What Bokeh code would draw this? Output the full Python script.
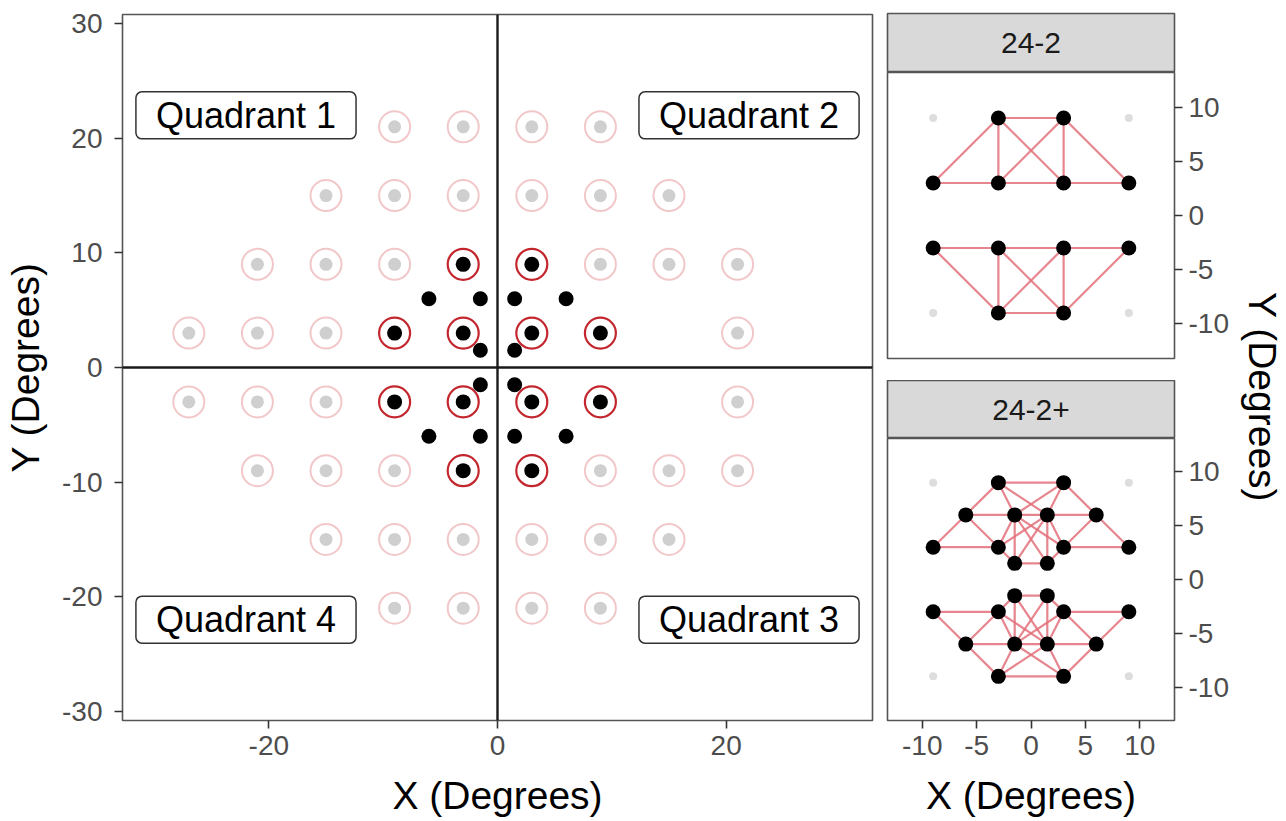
import math
from bokeh.plotting import figure
from bokeh.layouts import row, column
from bokeh.models import Span, Range1d, FixedTicker, ColumnDataSource
from bokeh.embed import file_html
from bokeh.resources import INLINE
from bokeh.core.properties import value

FONT = "Liberation Sans"

# ---------------- data ----------------
# 24-2 test grid (rows of y, with x positions per row)
grid_rows_y = [21, 15, 9, 3, -3, -9, -15, -21]
grid_rows_x = [
    [-9, -3, 3, 9],
    [-15, -9, -3, 3, 9, 15],
    [-21, -15, -9, -3, 3, 9, 15, 21],
    [-27, -21, -15, -9, -3, 3, 9, 21],
    [-27, -21, -15, -9, -3, 3, 9, 21],
    [-21, -15, -9, -3, 3, 9, 15, 21],
    [-15, -9, -3, 3, 9, 15],
    [-9, -3, 3, 9],
]

# central 24-2 points (within 10 degrees)
central_x = [-3, 3, -9, -3, 3, 9, -9, -3, 3, 9, -3, 3]
central_y = [9, 9, 3, 3, 3, 3, -3, -3, -3, -3, -9, -9]

# additional 24-2+ (24-2C) points
extra_x = [-6, -1.5, 1.5, 6, -1.5, 1.5, -1.5, 1.5, -6, -1.5, 1.5, 6]
extra_y = [6, 6, 6, 6, 1.5, 1.5, -1.5, -1.5, -6, -6, -6, -6]

# faint corner points in the facet panels
corner_x = [-9, 9, -9, 9]
corner_y = [9, 9, -9, -9]

# named points for the network edges
pts = {
    "A": (-3, 9), "B": (3, 9), "G": (-9, 3), "H": (-3, 3), "I": (3, 3), "J": (9, 3),
    "a": (-3, -9), "b": (3, -9), "g": (-9, -3), "h": (-3, -3), "i": (3, -3), "j": (9, -3),
    "C": (-6, 6), "D": (-1.5, 6), "E": (1.5, 6), "F": (6, 6), "K": (-1.5, 1.5), "L": (1.5, 1.5),
    "c": (-6, -6), "d": (-1.5, -6), "e": (1.5, -6), "f": (6, -6), "k": (-1.5, -1.5), "l": (1.5, -1.5),
}

edges_242 = [
    ("A", "B"), ("A", "G"), ("A", "H"), ("A", "I"), ("B", "H"), ("B", "I"), ("B", "J"),
    ("G", "H"), ("H", "I"), ("I", "J"),
    ("a", "b"), ("a", "g"), ("a", "h"), ("a", "i"), ("b", "h"), ("b", "i"), ("b", "j"),
    ("g", "h"), ("h", "i"), ("i", "j"),
]

edges_242p = [
    ("A", "B"), ("A", "C"), ("C", "G"), ("G", "H"), ("C", "D"), ("D", "E"), ("E", "F"),
    ("C", "H"), ("A", "D"), ("A", "E"), ("B", "D"), ("B", "E"), ("B", "F"), ("F", "J"),
    ("J", "I"), ("F", "I"), ("H", "D"), ("I", "E"), ("H", "E"), ("I", "D"), ("H", "K"),
    ("I", "L"), ("D", "K"), ("E", "L"), ("K", "L"), ("D", "L"), ("E", "K"),
    ("a", "b"), ("a", "c"), ("c", "g"), ("g", "h"), ("c", "d"), ("d", "e"), ("e", "f"),
    ("c", "h"), ("a", "d"), ("a", "e"), ("b", "d"), ("b", "e"), ("b", "f"), ("f", "j"),
    ("j", "i"), ("f", "i"), ("h", "d"), ("i", "e"), ("h", "e"), ("i", "d"), ("h", "k"),
    ("i", "l"), ("d", "k"), ("e", "l"), ("k", "l"), ("d", "l"), ("e", "k"),
]

quad_text = ["Quadrant 1", "Quadrant 2", "Quadrant 4", "Quadrant 3"]
quad_x = [-22, 22, -22, 22]
quad_y = [22, 22, -22, -22]

main_xticks = [-20, 0, 20]
main_yticks = [-30, -20, -10, 0, 10, 20, 30]
facet_xticks = [-10, -5, 0, 5, 10]
facet_yticks = [-10, -5, 0, 5, 10]
facet_titles = ["24-2", "24-2+"]

# ---------------- derived sources ----------------
grid_x, grid_y = [], []
for yv, xs in zip(grid_rows_y, grid_rows_x):
    for xv in xs:
        grid_x.append(xv)
        grid_y.append(yv)
central_set = set(zip(central_x, central_y))
faded = [(x, y) for x, y in zip(grid_x, grid_y) if (x, y) not in central_set]
faded_x = [p[0] for p in faded]
faded_y = [p[1] for p in faded]


def edge_source(edges):
    return ColumnDataSource(dict(
        x0=[pts[a][0] for a, b in edges], y0=[pts[a][1] for a, b in edges],
        x1=[pts[b][0] for a, b in edges], y1=[pts[b][1] for a, b in edges]))


TICK_COL = "#333333"
LABEL_COL = "#4D4D4D"
BORDER_COL = "#555555"
RING_RED = "#C4262E"
EDGE_COL = "#E3707A"


def style_axis(ax, ticks, fs="28px"):
    ax.ticker = FixedTicker(ticks=ticks)
    ax.major_label_overrides = {t: (("-" + str(-t)) if t < 0 else str(t)) for t in ticks}
    ax.axis_line_color = None
    ax.major_tick_in = 0
    ax.major_tick_out = 8
    ax.major_tick_line_color = TICK_COL
    ax.major_tick_line_width = 1.6
    ax.minor_tick_line_color = None
    ax.major_label_text_font = FONT
    ax.major_label_text_font_size = fs
    ax.major_label_text_color = LABEL_COL
    ax.axis_label_text_font = FONT
    ax.axis_label_text_font_size = "39px"
    ax.axis_label_text_font_style = "normal"
    ax.axis_label_text_color = "black"


TOTAL_H = 819

# ---------------- main panel ----------------
p = figure(width=879, height=TOTAL_H, x_range=Range1d(-32.8, 32.8), y_range=Range1d(-30.8, 30.8),
           output_backend="svg", toolbar_location=None,
           min_border_left=122, min_border_right=7, min_border_top=14, min_border_bottom=TOTAL_H - 14 - 708)
p.grid.visible = False
p.outline_line_color = BORDER_COL
p.outline_line_width = 1.6
p.background_fill_color = "white"
style_axis(p.xaxis[0], main_xticks)
style_axis(p.yaxis[0], main_yticks)
p.xaxis.axis_label = "X (Degrees)"
p.yaxis.axis_label = "Y (Degrees)"
p.xaxis.major_label_standoff = 7
p.yaxis.major_label_standoff = 12
p.xaxis.axis_label_standoff = 16
p.yaxis.axis_label_standoff = 12

p.add_layout(Span(location=0, dimension="height", line_color="#1A1A1A", line_width=2.4))
p.add_layout(Span(location=0, dimension="width", line_color="#1A1A1A", line_width=2.4))

p.scatter(faded_x, faded_y, size=31, fill_color=None, line_color="#E9A9AC", line_alpha=0.65, line_width=2)
p.scatter(faded_x, faded_y, size=13, fill_color="#CFCFCF", line_color=None)
p.scatter(central_x, central_y, size=31, fill_color="white", line_color=RING_RED, line_width=2.2)
p.scatter(central_x, central_y, size=15, fill_color="black", line_color=None)
p.scatter(extra_x, extra_y, size=15, fill_color="black", line_color=None)

qsrc = ColumnDataSource(dict(x=quad_x, y=quad_y, t=quad_text))
p.text(x="x", y="y", text="t", source=qsrc, text_font=value(FONT), text_font_size="36px",
       text_align="center", text_baseline="middle", text_color="black",
       background_fill_color="white", border_line_color="#333333", border_line_width=1.5,
       border_radius=6, padding=dict(left=20, right=20, top=3, bottom=3))

# ---------------- facets ----------------
FW = 353
FL, FR = 8, 58


def strip(title, h, top):
    s = figure(width=FW, height=h, x_range=Range1d(-1, 1), y_range=Range1d(-1, 1),
               output_backend="svg", toolbar_location=None, x_axis_location=None, y_axis_location=None,
               min_border_left=FL, min_border_right=FR, min_border_top=top, min_border_bottom=0)
    s.grid.visible = False
    s.background_fill_color = "#D9D9D9"
    s.outline_line_color = BORDER_COL
    s.outline_line_width = 1.6
    s.text(x=[0], y=[0], text=[title], text_font=value(FONT), text_font_size="30px",
           text_align="center", text_baseline="middle", text_color="#1A1A1A")
    return s


def panel(edges, h, bottom, yr, show_x):
    f = figure(width=FW, height=h, x_range=Range1d(-13.2, 13.2), y_range=Range1d(-yr, yr),
               output_backend="svg", toolbar_location=None,
               x_axis_location="below" if show_x else None, y_axis_location="right",
               min_border_left=FL, min_border_right=FR, min_border_top=0, min_border_bottom=bottom)
    f.grid.visible = False
    f.outline_line_color = BORDER_COL
    f.outline_line_width = 1.6
    style_axis(f.yaxis[0], facet_yticks)
    f.yaxis.major_label_standoff = 6
    if show_x:
        style_axis(f.xaxis[0], facet_xticks)
        f.xaxis.axis_label = "X (Degrees)"
        f.xaxis.major_label_standoff = 7
        f.xaxis.axis_label_standoff = 16
    f.scatter(corner_x, corner_y, size=8, fill_color="#DDDDDD", line_color=None)
    f.segment(x0="x0", y0="y0", x1="x1", y1="y1", source=edge_source(edges),
              line_color=EDGE_COL, line_width=2.2, line_alpha=0.85)
    return f


s1 = strip(facet_titles[0], 13 + 59, 13)
f1 = panel(edges_242, 286 + 22, 22, 13.2, False)
f1.scatter(central_x, central_y, size=15, fill_color="black", line_color=None)

s2 = strip(facet_titles[1], 58, 0)
rest = TOTAL_H - (13 + 59) - (286 + 22) - 58
f2 = panel(edges_242p, rest, rest - 284, 13.1, True)
f2.scatter(central_x, central_y, size=15, fill_color="black", line_color=None)
f2.scatter(extra_x, extra_y, size=15, fill_color="black", line_color=None)

# right-hand shared axis title (screen-like coordinates: y grows downward)
TW = 54
t = figure(width=TW, height=TOTAL_H, x_range=Range1d(0, TW), y_range=Range1d(TOTAL_H, 0),
           output_backend="svg", toolbar_location=None, x_axis_location=None, y_axis_location=None,
           min_border=0)
t.grid.visible = False
t.outline_line_color = None
t.text(x=[30], y=[322], text=["Y (Degrees)"], angle=-math.pi / 2, text_font=value(FONT),
       text_font_size="39px", text_align="left", text_baseline="middle", text_color="black")

layout = row(p, column(s1, f1, s2, f2), t)
open("out.html", "w").write(file_html(layout, INLINE))
